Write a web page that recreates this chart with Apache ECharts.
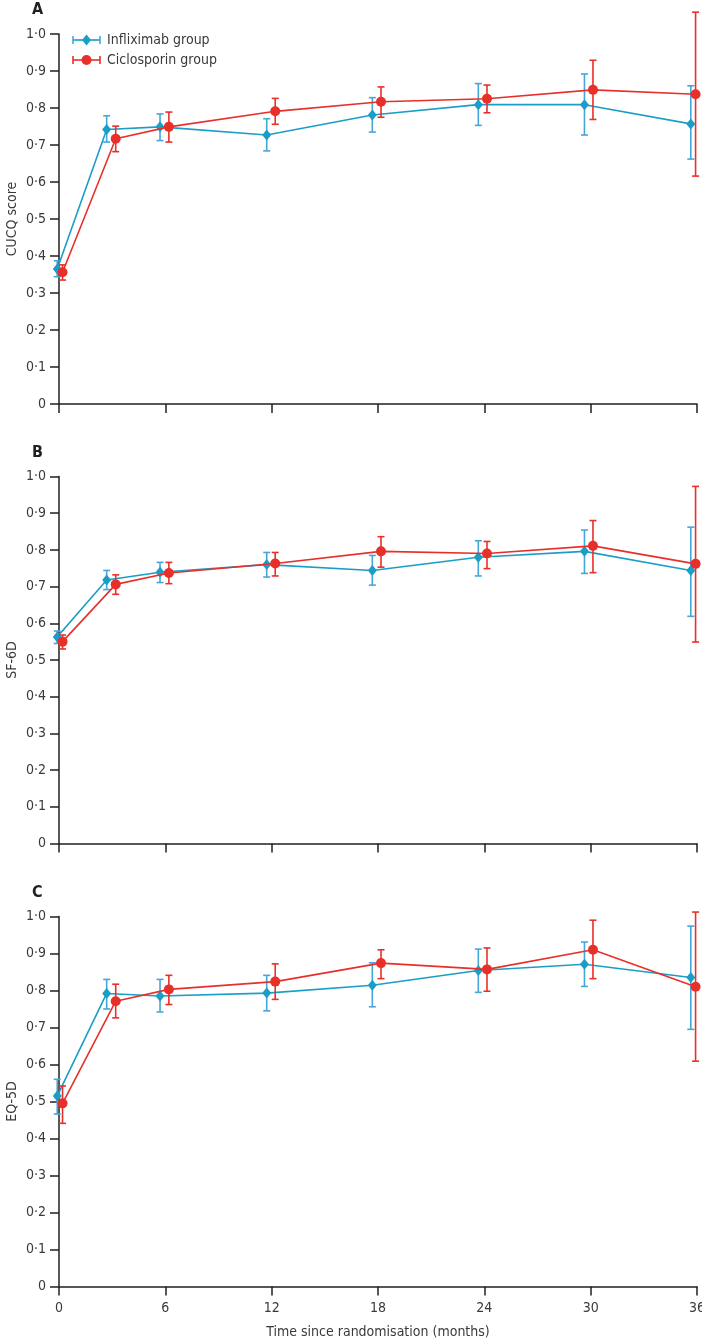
<!DOCTYPE html>
<html>
<head>
<meta charset="utf-8">
<script src="https://cdn.jsdelivr.net/npm/echarts@6/dist/echarts.min.js"></script>
<style>
html,body{margin:0;padding:0;background:#fff;}
#chart{width:702px;height:1339px;}
</style>
</head>
<body>
<div id="chart"></div>
<script>
// ---- data ----
const xTicks = [0, 6, 12, 18, 24, 30, 36];
const inflixTimes = [-0.1, 2.69, 5.7, 11.72, 17.68, 23.66, 29.65, 35.65];
const ciclTimes = [0.2, 3.2, 6.2, 12.2, 18.17, 24.15, 30.13, 35.92];

const panelLetters = ['A', 'B', 'C'];
const panelNames = ['CUCQ score', 'SF-6D', 'EQ-5D'];

const cucqInflix   = [0.365, 0.742, 0.749, 0.727, 0.781, 0.809, 0.809, 0.757];
const cucqInflixLo = [0.344, 0.708, 0.712, 0.684, 0.735, 0.753, 0.727, 0.662];
const cucqInflixHi = [0.387, 0.779, 0.784, 0.771, 0.828, 0.866, 0.892, 0.860];
const cucqCicl     = [0.356, 0.717, 0.749, 0.791, 0.817, 0.825, 0.849, 0.837];
const cucqCiclLo   = [0.335, 0.682, 0.708, 0.756, 0.775, 0.787, 0.769, 0.616];
const cucqCiclHi   = [0.376, 0.751, 0.789, 0.826, 0.857, 0.862, 0.929, 1.059];

const sfInflix   = [0.563, 0.718, 0.739, 0.760, 0.744, 0.780, 0.796, 0.744];
const sfInflixLo = [0.545, 0.692, 0.711, 0.726, 0.704, 0.729, 0.736, 0.619];
const sfInflixHi = [0.579, 0.744, 0.766, 0.793, 0.785, 0.825, 0.854, 0.862];
const sfCicl     = [0.550, 0.706, 0.737, 0.763, 0.796, 0.790, 0.811, 0.762];
const sfCiclLo   = [0.530, 0.679, 0.708, 0.729, 0.753, 0.749, 0.738, 0.549];
const sfCiclHi   = [0.568, 0.732, 0.766, 0.793, 0.836, 0.823, 0.880, 0.973];

const eqInflix   = [0.515, 0.792, 0.785, 0.793, 0.814, 0.854, 0.871, 0.835];
const eqInflixLo = [0.466, 0.750, 0.742, 0.745, 0.756, 0.795, 0.811, 0.695];
const eqInflixHi = [0.560, 0.830, 0.830, 0.841, 0.875, 0.912, 0.931, 0.974];
const eqCicl     = [0.495, 0.771, 0.803, 0.824, 0.874, 0.857, 0.910, 0.810];
const eqCiclLo   = [0.441, 0.726, 0.762, 0.776, 0.832, 0.798, 0.832, 0.609];
const eqCiclHi   = [0.542, 0.817, 0.841, 0.872, 0.910, 0.915, 0.990, 1.012];

const legendNames = ['Infliximab group', 'Ciclosporin group'];

// ---- styling ----
const FONT = "'Liberation Sans Narrow', 'DejaVu Sans Condensed', 'Roboto Condensed', sans-serif";
const BLUE = '#1a9ec8';
const BLUE_ERR = '#45a6da';
const RED = '#e8302a';
const AXIS = '#231f20';
const TXT = '#3a3a3a';

const panels = [
  {inf: cucqInflix, infLo: cucqInflixLo, infHi: cucqInflixHi, cic: cucqCicl, cicLo: cucqCiclLo, cicHi: cucqCiclHi},
  {inf: sfInflix, infLo: sfInflixLo, infHi: sfInflixHi, cic: sfCicl, cicLo: sfCiclLo, cicHi: sfCiclHi},
  {inf: eqInflix, infLo: eqInflixLo, infHi: eqInflixHi, cic: eqCicl, cicLo: eqCiclLo, cicHi: eqCiclHi}
];
const gridBoxes = [
  {top: 34, height: 370},
  {top: 476.5, height: 367},
  {top: 916.5, height: 370}
];

const grids = [], xAxes = [], yAxes = [], series = [], graphics = [];

function errRender(color) {
  return function (params, api) {
    const x = api.value(0);
    const p1 = api.coord([x, api.value(1)]);
    const p2 = api.coord([x, api.value(2)]);
    const hw = 3.5;
    const style = {stroke: color, lineWidth: 1.6};
    return {
      type: 'group',
      children: [
        {type: 'line', shape: {x1: p1[0], y1: p1[1], x2: p2[0], y2: p2[1]}, style: style},
        {type: 'line', shape: {x1: p1[0] - hw, y1: p1[1], x2: p1[0] + hw, y2: p1[1]}, style: style},
        {type: 'line', shape: {x1: p2[0] - hw, y1: p2[1], x2: p2[0] + hw, y2: p2[1]}, style: style}
      ]
    };
  };
}

panels.forEach((p, i) => {
  const last = i === panels.length - 1;
  grids.push({left: 59, right: 5, top: gridBoxes[i].top, height: gridBoxes[i].height,
    containLabel: false, outerBoundsMode: 'none'});
  xAxes.push({
    type: 'value', gridIndex: i, min: 0, max: 36, interval: 6,
    axisLine: {show: true, onZero: false, lineStyle: {color: AXIS, width: 1.5}},
    axisTick: {show: true, length: 9, lineStyle: {color: AXIS, width: 1.5}},
    splitLine: {show: false},
    axisLabel: {show: last, color: TXT, fontFamily: FONT, fontSize: 14, margin: 15},
    name: last ? 'Time since randomisation (months)' : '',
    nameLocation: 'middle', nameGap: 39, nameMoveOverlap: false,
    nameTextStyle: {color: TXT, fontFamily: FONT, fontSize: 14}
  });
  yAxes.push({
    type: 'value', gridIndex: i, min: 0, max: 1, interval: 0.1,
    axisLine: {show: true, lineStyle: {color: AXIS, width: 1.5}},
    axisTick: {show: true, length: 9, lineStyle: {color: AXIS, width: 1.5}},
    splitLine: {show: false},
    axisLabel: {
      color: TXT, fontFamily: FONT, fontSize: 14, margin: 13,
      formatter: v => (v === 0 ? '0' : v.toFixed(1).replace('.', '\u00b7'))
    },
    name: panelNames[i], nameLocation: 'middle', nameGap: 40, nameMoveOverlap: false,
    nameTextStyle: {color: TXT, fontFamily: FONT, fontSize: 14}
  });

  series.push({
    type: 'custom', xAxisIndex: i, yAxisIndex: i, clip: false, z: 2,
    renderItem: errRender(BLUE_ERR),
    encode: {x: 0, y: [1, 2]},
    data: inflixTimes.map((t, k) => [t, p.infLo[k], p.infHi[k]])
  });
  series.push({
    type: 'line', name: legendNames[0], xAxisIndex: i, yAxisIndex: i, z: 3, clip: false,
    data: inflixTimes.map((t, k) => [t, p.inf[k]]),
    symbol: 'diamond', symbolSize: [9, 11],
    lineStyle: {color: BLUE, width: 1.6},
    itemStyle: {color: BLUE}
  });
  series.push({
    type: 'custom', xAxisIndex: i, yAxisIndex: i, clip: false, z: 4,
    renderItem: errRender(RED),
    encode: {x: 0, y: [1, 2]},
    data: ciclTimes.map((t, k) => [t, p.cicLo[k], p.cicHi[k]])
  });
  series.push({
    type: 'line', name: legendNames[1], xAxisIndex: i, yAxisIndex: i, z: 5, clip: false,
    data: ciclTimes.map((t, k) => [t, p.cic[k]]),
    symbol: 'circle', symbolSize: 10,
    lineStyle: {color: RED, width: 1.6},
    itemStyle: {color: RED}
  });

  graphics.push({
    type: 'text', left: 32, top: gridBoxes[i].top - 32,
    style: {text: panelLetters[i], font: 'bold 16px ' + FONT, fill: '#231f20'}
  });
});

// legend (drawn as graphic to mimic error-bar icons)
function legendRow(y, color, errColor, symbolShape, label) {
  const x1 = 73, x2 = 100, cx = 86.5;
  const st = {stroke: errColor, lineWidth: 1.6};
  const kids = [
    {type: 'line', shape: {x1: x1, y1: y, x2: x2, y2: y}, style: {stroke: color, lineWidth: 1.6}},
    {type: 'line', shape: {x1: x1, y1: y - 4, x2: x1, y2: y + 4}, style: st},
    {type: 'line', shape: {x1: x2, y1: y - 4, x2: x2, y2: y + 4}, style: st}
  ];
  if (symbolShape === 'diamond') {
    kids.push({type: 'polygon', shape: {points: [[cx, y - 5.5], [cx + 4.5, y], [cx, y + 5.5], [cx - 4.5, y]]}, style: {fill: color}});
  } else {
    kids.push({type: 'circle', shape: {cx: cx, cy: y, r: 5}, style: {fill: color}});
  }
  kids.push({type: 'text', x: 107, y: y, style: {text: label, font: '14px ' + FONT, fill: TXT, textVerticalAlign: 'middle'}});
  return kids;
}
graphics.push({type: 'group', children: legendRow(40, BLUE, BLUE_ERR, 'diamond', legendNames[0])
  .concat(legendRow(60, RED, RED, 'circle', legendNames[1]))});

const chart = echarts.init(document.getElementById('chart'), null, {renderer: 'canvas'});
chart.setOption({
  animation: false,
  backgroundColor: '#ffffff',
  grid: grids,
  xAxis: xAxes,
  yAxis: yAxes,
  series: series,
  graphic: graphics
});
</script>
</body>
</html>
